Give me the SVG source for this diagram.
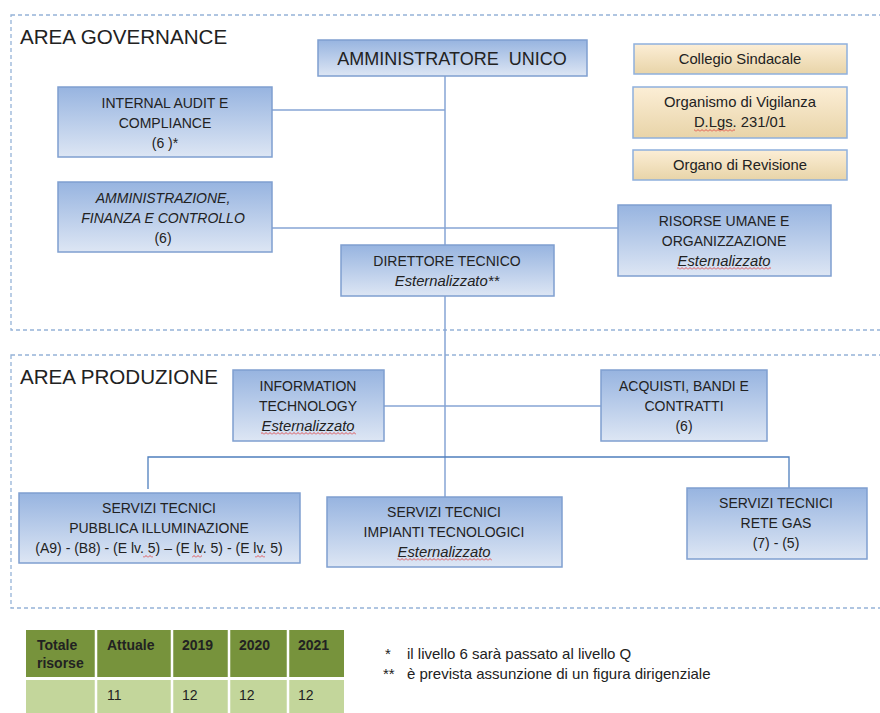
<svg xmlns="http://www.w3.org/2000/svg" width="880" height="713" viewBox="0 0 880 713">
<defs>
<linearGradient id="gb" x1="0" y1="0" x2="0" y2="1"><stop offset="0" stop-color="#97B4E0"/><stop offset="1" stop-color="#DDE6F4"/></linearGradient>
<linearGradient id="gy" x1="0" y1="0" x2="0" y2="1"><stop offset="0" stop-color="#FCEED6"/><stop offset="1" stop-color="#E8D4A8"/></linearGradient>
<pattern id="sq" width="4" height="3" patternUnits="userSpaceOnUse"><path d="M0 2.5 L2 0.5 L4 2.5" stroke="#E03030" stroke-width="0.8" fill="none"/></pattern>
<style>
.b{fill:url(#gb);stroke:#7F9FD0;stroke-width:1.5}
.y{fill:url(#gy);stroke:#8FB0DD;stroke-width:1.5}
.area{fill:none;stroke:#95B3D7;stroke-width:1.3;stroke-dasharray:4 3}
text{font-family:"Liberation Sans",Arial,sans-serif;fill:#222}
.t{font-size:14px;text-anchor:middle}
.lc{font-size:14.8px}
.i{font-style:italic}
.h{font-size:20.6px}
.ln{fill:none;stroke:#86A5D4;stroke-width:1.5}
.ld{fill:none;stroke:#4F7FBD;stroke-width:1.3}
.th{font-size:14px;font-weight:bold}
.td{font-size:14px}
.nt{font-size:15px}
.sqr{fill:url(#sq)}
</style>
</defs>
<rect width="880" height="713" fill="#fff"/>
<g id="areas">
<rect class="area" x="11" y="15" width="890" height="315"/>
<rect class="area" x="11" y="355" width="890" height="253"/>
<text class="h" x="20" y="44">AREA GOVERNANCE</text>
<text class="h" x="20" y="384">AREA PRODUZIONE</text>
</g>
<g id="connectors">
<path class="ln" d="M445 76 V497"/>
<path class="ln" d="M272 110 H445"/>
<path class="ln" d="M272 228 H618"/>
<path class="ln" d="M384 406 H601"/>
<path class="ld" d="M148 489 V457 H789 V488"/>
</g>
<g id="amministratore">
<rect class="b" x="318" y="40" width="269" height="36"/>
<text class="t" x="452" y="65" style="font-size:18px" xml:space="preserve">AMMINISTRATORE  UNICO</text>
</g>
<g id="collegio">
<rect class="y" x="634" y="44" width="213" height="30"/>
<text class="t lc" x="740" y="64">Collegio Sindacale</text>
</g>
<g id="organismo">
<rect class="y" x="633" y="87" width="214" height="51"/>
<text class="t lc" x="740" y="107">Organismo di Vigilanza</text>
<text class="t lc" x="740" y="127">D.Lgs. 231/01</text>
<rect class="sqr" x="694" y="129" width="41" height="3"/>
</g>
<g id="organo">
<rect class="y" x="633" y="150" width="214" height="30"/>
<text class="t lc" x="740" y="170">Organo di Revisione</text>
</g>
<g id="internal-audit">
<rect class="b" x="58" y="87" width="214" height="70"/>
<text class="t" x="165" y="108">INTERNAL AUDIT E</text>
<text class="t" x="165" y="128">COMPLIANCE</text>
<text class="t" x="165" y="148">(6 )*</text>
</g>
<g id="amministrazione">
<rect class="b" x="58" y="182" width="214" height="70"/>
<text class="t i" x="163" y="203">AMMINISTRAZIONE,</text>
<text class="t i" x="163" y="223">FINANZA E CONTROLLO</text>
<text class="t" x="163" y="243">(6)</text>
</g>
<g id="direttore">
<rect class="b" x="341" y="245" width="213" height="51"/>
<text class="t" x="447" y="266">DIRETTORE TECNICO</text>
<text class="t i lc" x="447" y="286">Esternalizzato**</text>
</g>
<g id="risorse">
<rect class="b" x="618" y="205" width="213" height="71"/>
<text class="t" x="724" y="226">RISORSE UMANE E</text>
<text class="t" x="724" y="246">ORGANIZZAZIONE</text>
<text class="t i lc" x="724" y="266">Esternalizzato</text>
<rect class="sqr" x="677" y="267" width="94" height="3"/>
</g>
<g id="information-technology">
<rect class="b" x="233" y="370" width="151" height="71"/>
<text class="t" x="308" y="391">INFORMATION</text>
<text class="t" x="308" y="411">TECHNOLOGY</text>
<text class="t i lc" x="308" y="431">Esternalizzato</text>
<rect class="sqr" x="261" y="432" width="95" height="3"/>
</g>
<g id="acquisti">
<rect class="b" x="601" y="370" width="166" height="71"/>
<text class="t" x="684" y="391">ACQUISTI, BANDI E</text>
<text class="t" x="684" y="411">CONTRATTI</text>
<text class="t" x="684" y="431">(6)</text>
</g>
<g id="servizi-pi">
<rect class="b" x="19" y="493" width="281" height="70"/>
<text class="t" x="159" y="513">SERVIZI TECNICI</text>
<text class="t" x="159" y="533">PUBBLICA ILLUMINAZIONE</text>
<text class="t" x="159" y="553">(A9) - (B8) - (E lv. 5) – (E lv. 5) - (E lv. 5)</text>
<rect class="sqr" x="143" y="555" width="10" height="3"/>
<rect class="sqr" x="192" y="555" width="10" height="3"/>
<rect class="sqr" x="255" y="555" width="10" height="3"/>
</g>
<g id="servizi-impianti">
<rect class="b" x="327" y="497" width="235" height="70"/>
<text class="t" x="444" y="517">SERVIZI TECNICI</text>
<text class="t" x="444" y="537">IMPIANTI TECNOLOGICI</text>
<text class="t i lc" x="444" y="557">Esternalizzato</text>
<rect class="sqr" x="397" y="558" width="95" height="3"/>
</g>
<g id="servizi-gas">
<rect class="b" x="687" y="488" width="180" height="71"/>
<text class="t" x="776" y="508">SERVIZI TECNICI</text>
<text class="t" x="776" y="528">RETE GAS</text>
<text class="t" x="776" y="548">(7) - (5)</text>
</g>
<g id="table">
<rect x="26" y="630" width="318" height="47" fill="#77933C"/>
<rect x="26" y="680" width="318" height="33" fill="#C3D69B"/>
<path d="M96 630 V713 M172 630 V713 M229 630 V713 M288 630 V713 M26 678.5 H344" stroke="#fff" stroke-width="2.5"/>
<text class="th" x="37" y="650">Totale</text>
<text class="th" x="37" y="668">risorse</text>
<text class="th" x="107" y="650">Attuale</text>
<text class="th" x="182" y="650">2019</text>
<text class="th" x="239" y="650">2020</text>
<text class="th" x="298" y="650">2021</text>
<text class="td" x="107" y="700">11</text>
<text class="td" x="182" y="700">12</text>
<text class="td" x="239" y="700">12</text>
<text class="td" x="298" y="700">12</text>
</g>
<g id="notes">
<text class="nt" x="385" y="659">*</text>
<text class="nt" x="407" y="659">il livello 6 sarà passato al livello Q</text>
<text class="nt" x="383" y="679">**</text>
<text class="nt" x="407" y="679">è prevista assunzione di un figura dirigenziale</text>
</g>
</svg>
